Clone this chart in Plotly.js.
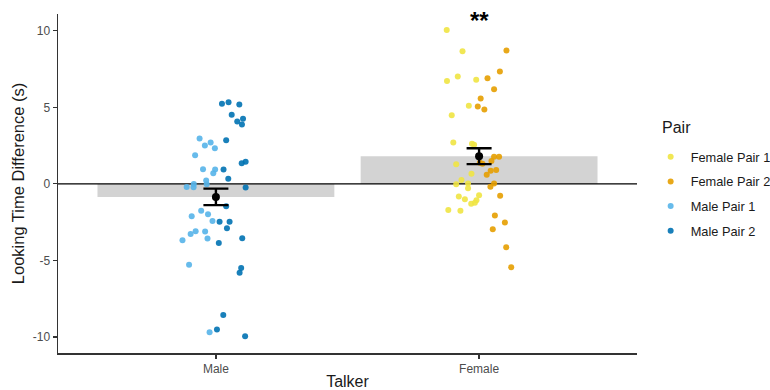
<!DOCTYPE html>
<html>
<head>
<meta charset="utf-8">
<script src="https://cdn.plot.ly/plotly-3.0.1.min.js"></script>
<style>html,body{margin:0;padding:0;background:#fff;}#chart{width:770px;height:390px;}</style>
</head>
<body>
<div id="chart"></div>
<script>
// Categories (x positions 1 and 2 on the Talker axis)
var talkers = ["Male", "Female"];
var talkerPos = [1, 2];
// Group summary: mean and error bar (upper / lower half-lengths)
var means = [-0.85, 1.81];
var errPlus = [0.54, 0.52];
var errMinus = [0.54, 0.52];

// Individual points: horizontal jitter (category units) and values
var malePair1Jitter = [-0.062,-0.020,-0.042,-0.004,-0.079,-0.049,-0.003,-0.010,-0.037,-0.084,-0.085,-0.111,-0.035,-0.056,-0.030,-0.092,-0.013,-0.077,-0.096,-0.041,-0.127,-0.032,-0.102,-0.024];
var malePair1Vals   = [2.96,2.70,2.50,2.33,1.87,0.96,0.94,0.70,0.22,0.00,-0.22,-0.20,-0.02,-1.76,-1.98,-2.11,-2.42,-3.09,-3.27,-3.11,-3.68,-3.57,-5.29,-9.69];

var malePair2Jitter = [0.023,0.048,0.089,0.060,0.081,0.103,0.099,0.039,0.098,0.113,0.029,0.047,0.113,0.039,0.014,0.052,0.042,0.100,0.011,0.096,0.090,0.028,0.004,0.111];
var malePair2Vals   = [5.23,5.34,5.18,4.51,4.07,4.25,3.88,2.85,1.35,1.44,0.94,0.33,-0.24,-1.46,-2.48,-2.48,-2.90,-3.55,-3.86,-5.49,-5.80,-8.56,-9.52,-9.96];

var femalePair1Jitter = [-0.123,-0.063,-0.081,-0.122,-0.011,-0.039,-0.104,-0.098,-0.027,-0.019,-0.087,-0.029,-0.067,-0.087,-0.042,-0.042,0.000,-0.077,-0.054,-0.010,-0.016,-0.030,-0.117,-0.071];
var femalePair1Vals   = [10.05,8.67,7.01,6.73,6.80,5.10,4.49,2.70,2.63,2.55,1.29,0.67,0.26,-0.02,0.02,-0.28,-0.74,-0.83,-1.00,-1.07,-1.24,-1.29,-1.70,-1.75];

var femalePair2Jitter = [0.104,0.079,0.032,0.057,0.006,-0.005,0.020,0.057,0.076,0.047,0.013,0.003,0.065,0.044,0.029,0.057,0.043,0.080,0.060,0.098,0.052,0.103,0.122];
var femalePair2Vals   = [8.71,7.34,6.91,6.19,5.58,5.05,4.86,1.78,1.78,1.50,1.31,1.38,0.90,0.85,0.59,0.02,-0.18,-0.78,-2.07,-2.53,-2.96,-4.14,-5.44];

var pairNames = ["Female Pair 1", "Female Pair 2", "Male Pair 1", "Male Pair 2"];
var pairColors = ["#F0E442", "#E69F00", "#56B4E9", "#0072B2"];
var legendTitle = "Pair";
var yTicks = [-10, -5, 0, 5, 10];
var yTickText = ["-10", "-5", "0", "5", "10"];
var sigLabel = "**";

function place(center, jit) { return jit.map(function (j) { return center + j; }); }

var pointSets = [
  {name: pairNames[0], x: place(talkerPos[1], femalePair1Jitter), y: femalePair1Vals, c: pairColors[0]},
  {name: pairNames[1], x: place(talkerPos[1], femalePair2Jitter), y: femalePair2Vals, c: pairColors[1]},
  {name: pairNames[2], x: place(talkerPos[0], malePair1Jitter), y: malePair1Vals, c: pairColors[2]},
  {name: pairNames[3], x: place(talkerPos[0], malePair2Jitter), y: malePair2Vals, c: pairColors[3]}
];

var xRange = [0.4, 2.6];
var traces = [];
traces.push({
  type: "bar", x: talkerPos, y: means, width: 0.9,
  marker: {color: "#D3D3D3", line: {width: 0}}, showlegend: false, hoverinfo: "skip"
});
traces.push({
  type: "scatter", mode: "lines", x: xRange, y: [0, 0],
  line: {color: "#000", width: 1.4}, showlegend: false, hoverinfo: "skip"
});
pointSets.forEach(function (s) {
  traces.push({
    type: "scatter", mode: "markers", name: s.name, legendgroup: s.name,
    x: s.x, y: s.y,
    marker: {color: s.c, size: 6, opacity: 0.9, line: {width: 0}}
  });
});
traces.push({
  type: "scatter", mode: "markers", x: talkerPos, y: means,
  marker: {color: "#000", size: 8},
  error_y: {type: "data", symmetric: false, array: errPlus, arrayminus: errMinus,
            color: "#000", thickness: 2.4, width: 12.5},
  showlegend: false, hoverinfo: "skip"
});

var layout = {
  width: 770, height: 390,
  margin: {l: 58, r: 133, t: 14, b: 37},
  paper_bgcolor: "#fff", plot_bgcolor: "#fff",
  font: {family: "Liberation Sans, Arial, sans-serif", color: "#000"},
  showlegend: true,
  barmode: "overlay",
  xaxis: {
    range: xRange, tickvals: talkerPos, ticktext: talkers,
    showgrid: false, zeroline: false, showline: true, linecolor: "#333", linewidth: 1.5,
    ticks: "outside", ticklen: 4, tickwidth: 1.2, tickcolor: "#333",
    tickfont: {size: 12, color: "#4D4D4D"},
    title: {text: "Talker", font: {size: 16, color: "#1a1a1a"}, standoff: 2}
  },
  yaxis: {
    range: [-11.05, 11.1], tickvals: yTicks, ticktext: yTickText,
    showgrid: false, zeroline: false, showline: true, linecolor: "#333", linewidth: 1.5,
    ticks: "outside", ticklen: 4, tickwidth: 1.2, tickcolor: "#333",
    tickfont: {size: 12, color: "#4D4D4D"},
    title: {text: "Looking Time Difference (s)", font: {size: 16.5, color: "#1a1a1a"}, standoff: 4}
  },
  legend: {
    xref: "container", yref: "container",
    x: 0.845, y: 0.636, xanchor: "left", yanchor: "top",
    font: {size: 12.8, color: "#1a1a1a"},
    tracegroupgap: 5, itemclick: false
  },
  annotations: [{
    x: talkerPos[1], y: 10.65, xref: "x", yref: "y", text: "<b>" + sigLabel + "</b>", showarrow: false,
    font: {size: 24, color: "#000"}, yanchor: "middle"
  }, {
    x: (660 - 58) / 579, y: (353 - 128) / 339, xref: "paper", yref: "paper", text: legendTitle, showarrow: false,
    font: {size: 16, color: "#1a1a1a"}, xanchor: "left", yanchor: "middle"
  }]
};

Plotly.newPlot("chart", traces, layout, {displayModeBar: false, staticPlot: true});
</script>
</body>
</html>
